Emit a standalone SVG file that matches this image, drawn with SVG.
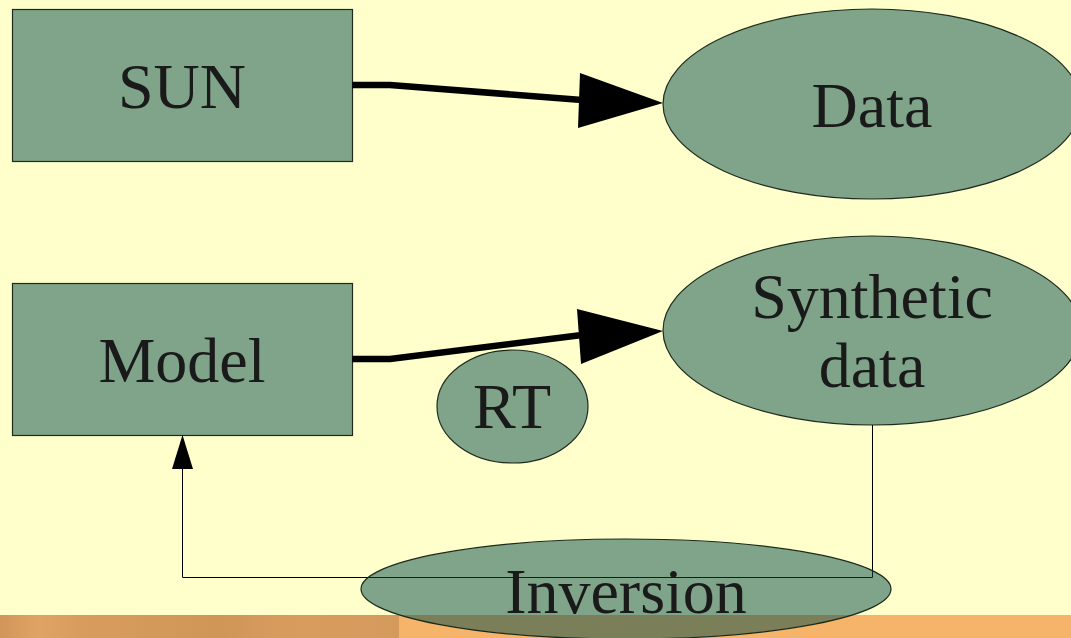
<svg xmlns="http://www.w3.org/2000/svg" width="1071" height="638" viewBox="0 0 1071 638">
<defs>
<style>
.node{fill:#7fa48a;stroke:#1e2a1e;stroke-width:1.2}
.lbl{font-family:"Liberation Serif","Times New Roman",serif;font-size:64px;fill:#1a1a1a;text-anchor:middle}
.thick{fill:none;stroke:#000;stroke-width:6.5;stroke-linejoin:miter}
.thin{fill:none;stroke:#000;stroke-width:1}
</style>
<linearGradient id="wood" x1="0" y1="0" x2="1" y2="0">
<stop offset="0" stop-color="#d2955a"/>
<stop offset="0.1" stop-color="#dfa465"/>
<stop offset="0.2" stop-color="#d89c5e"/>
<stop offset="0.35" stop-color="#d49a5c"/>
<stop offset="0.55" stop-color="#cf9658"/>
<stop offset="0.75" stop-color="#d99c5f"/>
<stop offset="1" stop-color="#d49a5c"/>
</linearGradient>
</defs>
<rect x="0" y="0" width="1071" height="638" fill="#ffffcc"/>
<rect x="0" y="615" width="399" height="23" fill="url(#wood)"/>
<rect x="399" y="615" width="672" height="23" fill="#f5b46a"/>

<g id="sun">
<rect class="node" x="12.5" y="9.5" width="340" height="152"/>
<text class="lbl" x="182" y="108">SUN</text>
</g>
<g id="data">
<ellipse class="node" cx="872" cy="104" rx="209" ry="95"/>
<text class="lbl" x="872" y="127">Data</text>
</g>
<g id="model">
<rect class="node" x="12.5" y="283.5" width="340" height="152"/>
<text class="lbl" x="182" y="382">Model</text>
</g>
<g id="synthetic">
<ellipse class="node" cx="872" cy="330.5" rx="209" ry="94.5"/>
<text class="lbl" x="872" y="318">Synthetic</text>
<text class="lbl" x="872" y="387">data</text>
</g>
<g id="rt">
<ellipse class="node" cx="512.5" cy="406.5" rx="75.5" ry="56.5"/>
<text class="lbl" x="512" y="428">RT</text>
</g>

<g id="connectors">
<polyline class="thick" points="352,85 390,85 582,100"/>
<polygon points="580,73 663,103 578,128" fill="#000"/>
<polyline class="thick" points="352,359 390,359 582,335"/>
<polygon points="577,309 663,331 581,364" fill="#000"/>
<polyline class="thin" points="872.5,425 872.5,577.5 182.5,577.5 182.5,466"/>
<polygon points="182.5,435 193,469 172,469" fill="#000"/>
</g>

<g id="inversion">
<ellipse cx="626" cy="589" rx="265" ry="50" fill="#004948" fill-opacity="0.5" stroke="#1a2a1a" stroke-width="1.2"/>
<text class="lbl" x="626" y="613">Inversion</text>
</g>
</svg>
